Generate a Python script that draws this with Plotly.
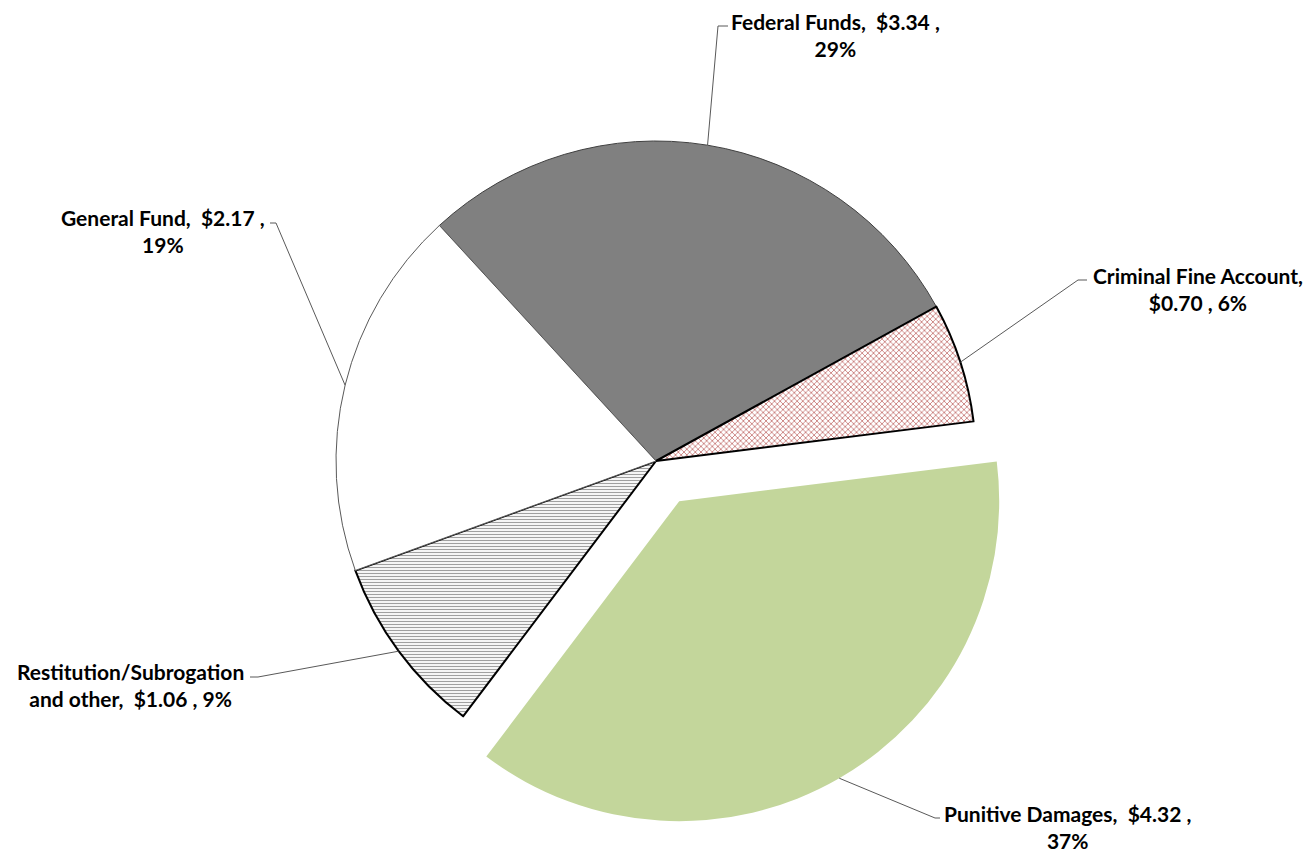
import math
import plotly.graph_objects as go

# data (billions), clockwise order starting at the General/Federal boundary
labels = ["Federal Funds", "Criminal Fine Account", "Punitive Damages",
          "Restitution/Subrogation and other", "General Fund"]
values = [3.34, 0.70, 4.32, 1.06, 2.17]
pulls = [0, 0, 0.145, 0, 0]

# label text: {v} value, {p} percent
label_tpl = [
    "Federal Funds,\u00a0 {v} ,<br>{p}",
    "Criminal Fine Account,<br>{v} , {p}",
    "Punitive Damages,\u00a0 {v} ,<br>{p}",
    "Restitution/Subrogation<br>and other,\u00a0 {v} , {p}",
    "General Fund,\u00a0 {v} ,<br>{p}",
]

slice_colors = ["#808080", "#ffffff", "#c3d69b", "#ffffff", "#ffffff"]
pat_shape = ["", "x", "", "-", ""]
pat_fg = ["#808080", "#c9807e", "#c3d69b", "#a0a0a0", "#ffffff"]
pat_size = [5, 4, 5, 3, 5]
line_colors = ["#404040", "#000000", "rgba(0,0,0,0)", "#000000", "#595959"]
line_widths = [1, 2, 0, 2, 1]

# layout in window pixels (page body has an 8px margin)
OFF = 8
W, H = 1311 - OFF, 855 - OFF
cx, cy, r = 656, 461, 320
rotation = -42.6
box = r * (2 + 2 * max(pulls))


def to_paper(px, py):
    return (px - OFF) / W, 1 - (py - OFF) / H


# where each label sits (text centre) and leader elbow / end points
text_pos = [(835, 35), (1198, 289), (1067, 827), (131, 685), (163, 231)]
elbows = [((718, 26), (728, 26)),
          ((1078, 280), (1087, 280)),
          ((935, 818), (940, 818)),
          ((258, 677), (250, 677)),
          ((276, 223), (270, 223))]

total = sum(values)

x0, y1 = to_paper(cx - box / 2, cy - box / 2)
x1, y0 = to_paper(cx + box / 2, cy + box / 2)

fig = go.Figure(go.Pie(
    labels=labels,
    values=values,
    sort=False,
    direction="clockwise",
    rotation=rotation,
    pull=pulls,
    textinfo="none",
    hoverinfo="label+value+percent",
    showlegend=False,
    marker=dict(
        colors=slice_colors,
        line=dict(color=line_colors, width=line_widths),
        pattern=dict(shape=pat_shape, fgcolor=pat_fg, bgcolor="white",
                     size=pat_size, solidity=0.4),
    ),
    domain=dict(x=[x0, x1], y=[y0, y1]),
))

shapes = []
annotations = []
acc = 0
for i, v in enumerate(values):
    mid = rotation + (acc + v / 2) / total * 360
    acc += v
    rr = r * (1 + pulls[i])
    ex = cx + rr * math.sin(math.radians(mid))
    ey = cy - rr * math.cos(math.radians(mid))
    pts = [to_paper(ex, ey)] + [to_paper(*p) for p in elbows[i]]
    path = "M {} {} L {} {} L {} {}".format(*[c for p in pts for c in p])
    shapes.append(dict(type="path", path=path, xref="paper", yref="paper",
                       line=dict(color="#595959", width=1)))
    tx, ty = to_paper(*text_pos[i])
    txt = label_tpl[i].format(v="${:.2f}".format(v),
                              p="{:.0f}%".format(v / total * 100))
    annotations.append(dict(x=tx, y=ty, xref="paper", yref="paper",
                            text="<b>" + txt + "</b>", showarrow=False,
                            xanchor="center", yanchor="middle", align="center",
                            font=dict(family="Lato", size=21, color="black")))

fig.update_layout(
    width=W, height=H,
    margin=dict(l=0, r=0, t=0, b=0),
    paper_bgcolor="white",
    shapes=shapes,
    annotations=annotations,
)

fig.write_html("out.html")
